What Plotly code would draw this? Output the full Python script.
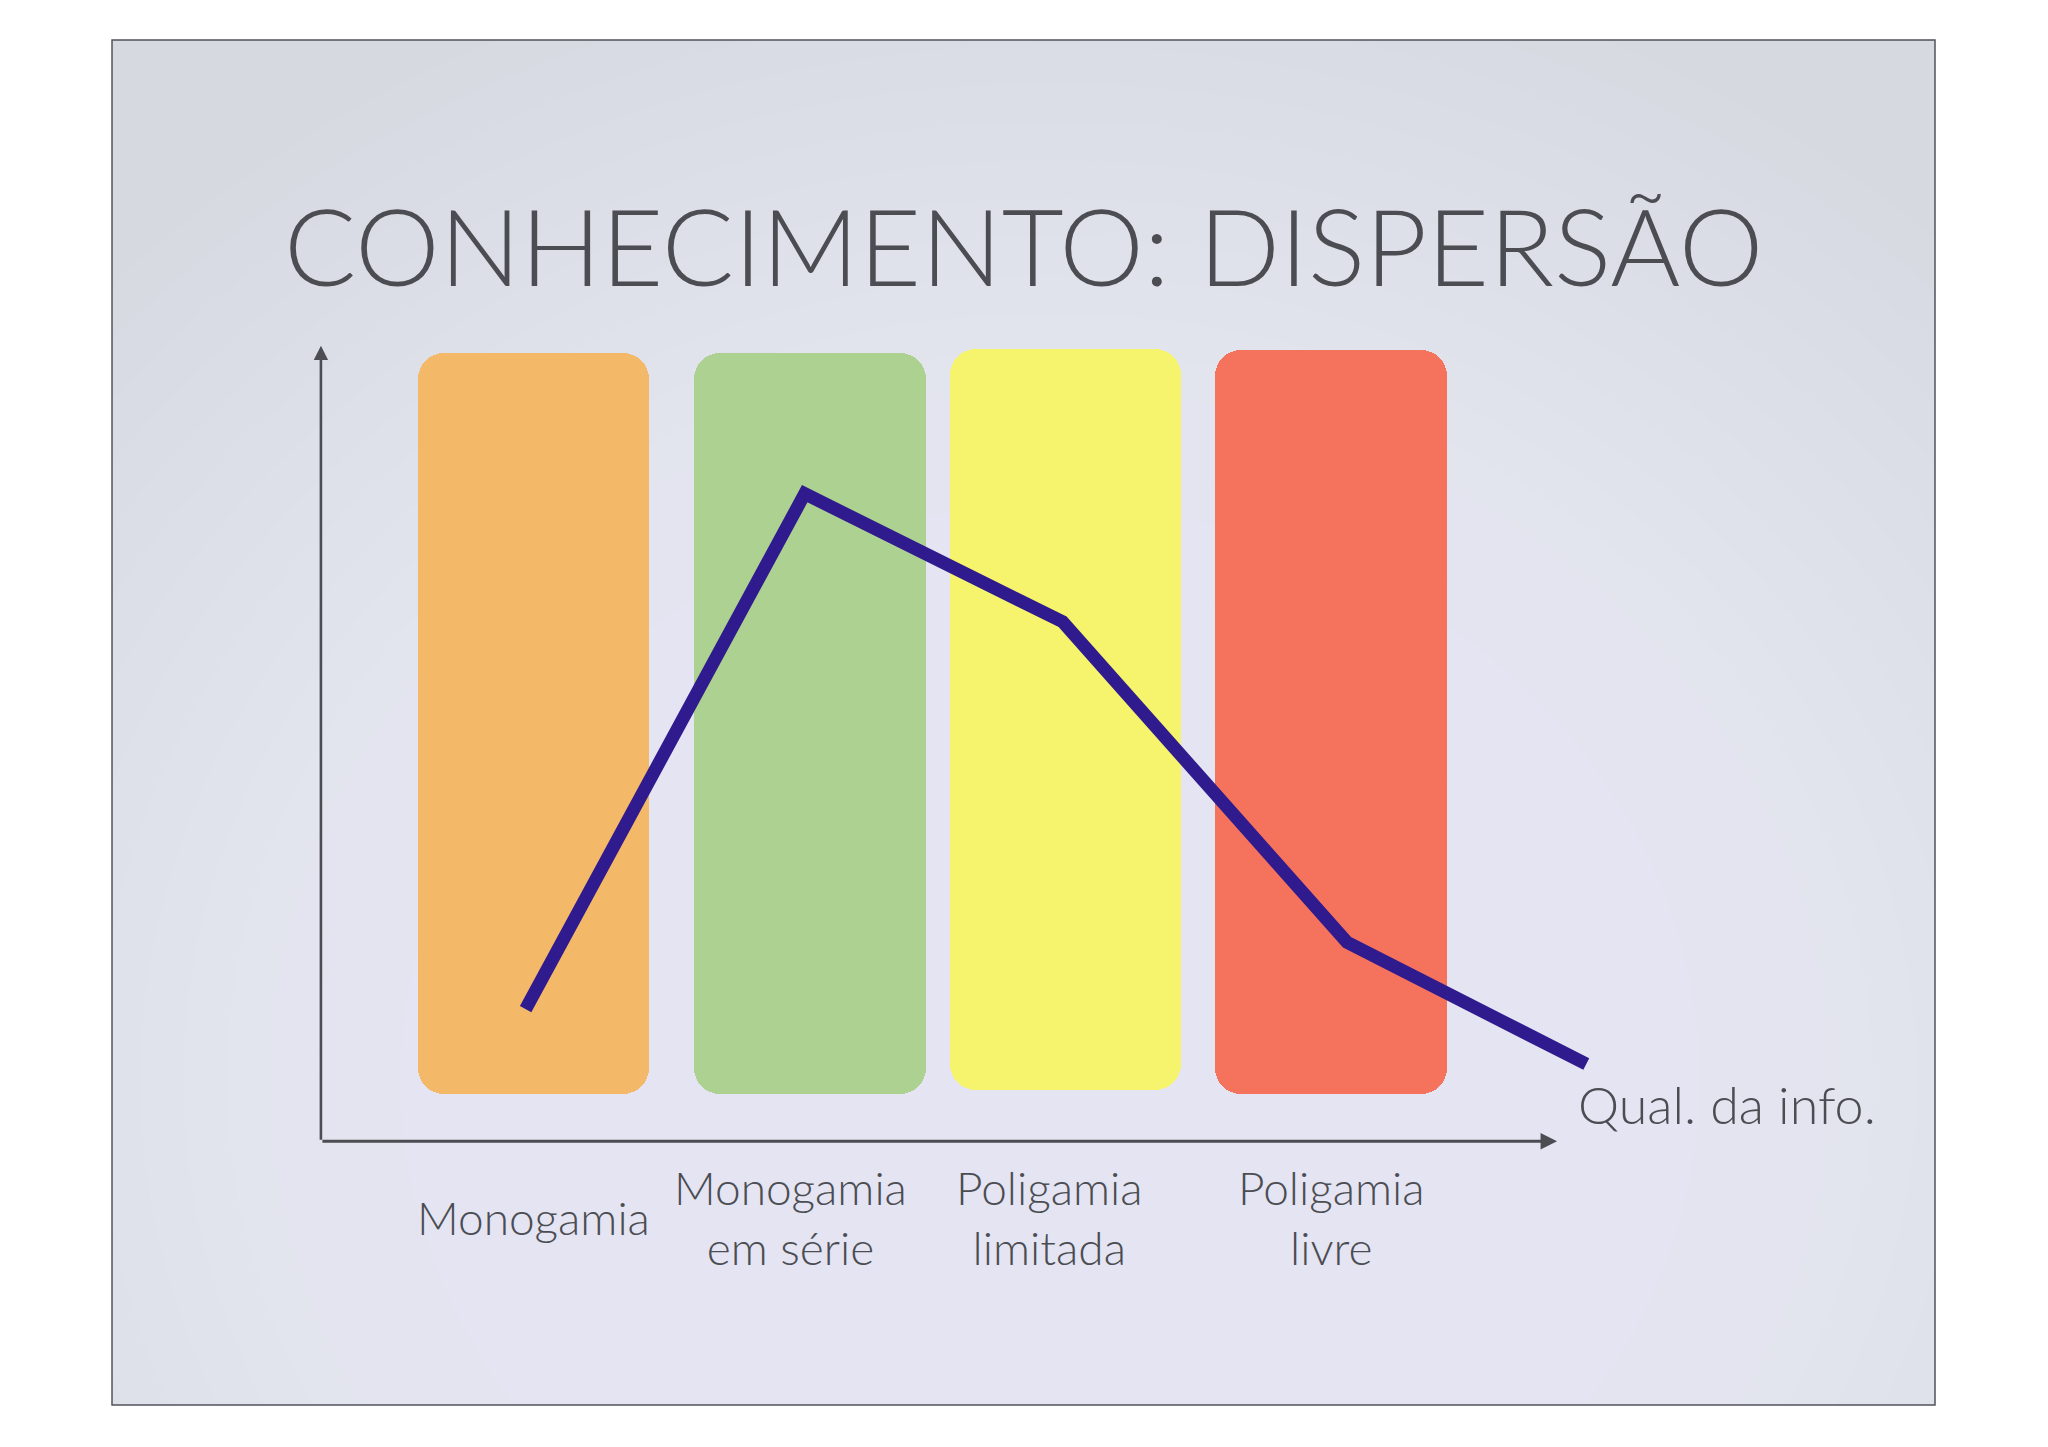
import plotly.graph_objects as go

W, H = 2048, 1447

# categories and their colour bands
categories = ["Monogamia", "Monogamia<br>em série", "Poligamia<br>limitada", "Poligamia<br>livre"]
label_x = [0.80, 1.765, 2.74, 3.80]
band_x = [0.80, 1.84, 2.80, 3.80]
band_top = [9.91, 9.91, 9.96, 9.95]
band_bottom = [0.59, 0.59, 0.64, 0.60]
band_colors = ["#f4b869", "#add190", "#f5f46c", "#f5735c"]

# knowledge dispersion curve
curve_x = [0.77, 1.82, 2.79, 3.86, 4.76]
curve_y = [1.66, 8.14, 6.53, 2.50, 0.97]

title = "CONHECIMENTO: DISPERSÃO"
x_title = "Qual. da info."

FONT = "Lato"
GREY = "#4b4d52"


def px(x):
    return x / W


def py(y):
    return 1 - y / H


fig = go.Figure()

fig.add_trace(go.Bar(
    x=band_x, y=[t - b for t, b in zip(band_top, band_bottom)], base=band_bottom,
    width=0.87, marker=dict(color=band_colors, line=dict(width=0), cornerradius=26),
    hoverinfo="skip", showlegend=False,
))

fig.add_trace(go.Scatter(
    x=curve_x, y=curve_y, mode="lines",
    line=dict(color="#2f1a8e", width=13),
    hoverinfo="skip", showlegend=False,
))

shapes = []
# slide background with a soft radial light
shapes.append(dict(type="rect", xref="paper", yref="paper", layer="below",
                   x0=px(112), x1=px(1935), y0=py(40), y1=py(1405),
                   fillcolor="#d6d9df", line=dict(width=0)))
steps = 30
for i in range(steps):
    k = 1 - i / steps
    cx, cy = 1050, 1080
    rx, ry = 1300 * k, 1150 * k
    shapes.append(dict(type="circle", xref="paper", yref="paper", layer="below",
                       x0=px(cx - rx), x1=px(cx + rx), y0=py(cy + ry), y1=py(cy - ry),
                       fillcolor="rgba(246,246,248,0.07)", line=dict(width=0)))
# white page outside the slide
for x0, x1, y0, y1 in [(0, W, 0, 40), (0, W, 1405, H), (0, 112, 0, H), (1935, W, 0, H)]:
    shapes.append(dict(type="rect", xref="paper", yref="paper", layer="below",
                       x0=px(x0), x1=px(x1), y0=py(y1), y1=py(y0),
                       fillcolor="white", line=dict(width=0)))
shapes.append(dict(type="rect", xref="paper", yref="paper", layer="below",
                   x0=px(112), x1=px(1935), y0=py(40), y1=py(1405),
                   line=dict(color="#50535a", width=1.5)))

annotations = [
    dict(text=title, xref="paper", yref="paper", x=px(1023), y=py(245),
         xanchor="center", yanchor="middle", showarrow=False,
         font=dict(family=FONT, size=107, color=GREY, weight=300)),
    # axes with arrow heads
    dict(x=4.65, y=0, ax=0, ay=0, xref="x", yref="y", axref="x", ayref="y",
         text="", showarrow=True, arrowhead=2, arrowsize=1.1, arrowwidth=3, arrowcolor=GREY),
    dict(x=0, y=10.0, ax=0, ay=0, xref="x", yref="y", axref="x", ayref="y",
         text="", showarrow=True, arrowhead=2, arrowsize=1.1, arrowwidth=2.6, arrowcolor=GREY),
    dict(text=x_title, x=px(1576), y=py(1104), xref="paper", yref="paper",
         xanchor="left", yanchor="middle", showarrow=False,
         font=dict(family=FONT, size=52, color=GREY, weight=300)),
]
for cx, label in zip(label_x, categories):
    annotations.append(dict(text=label, x=cx, y=py(1217), xref="x", yref="paper",
                            xanchor="center", yanchor="middle", showarrow=False,
                            font=dict(family=FONT, size=46, color=GREY, weight=300)))

fig.update_layout(
    width=W, height=H,
    margin=dict(l=0, r=0, t=0, b=0),
    paper_bgcolor="white", plot_bgcolor="rgba(0,0,0,0)",
    barmode="overlay", bargap=0,
    shapes=shapes, annotations=annotations,
    xaxis=dict(range=[-0.5, 5.5], domain=[px(188), px(1783)], visible=False, fixedrange=True),
    yaxis=dict(range=[-0.5, 10.5], domain=[py(1181), py(306)], visible=False, fixedrange=True),
)

fig.write_html("out.html", config={"displayModeBar": False},
               post_script="document.body.style.margin='0px';")
